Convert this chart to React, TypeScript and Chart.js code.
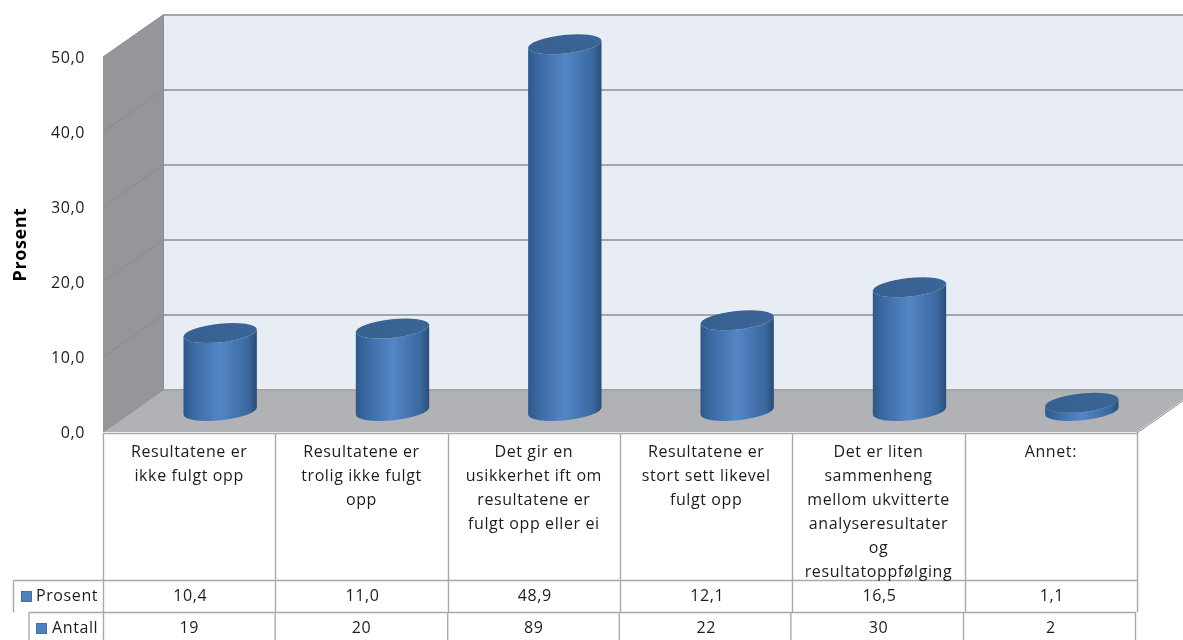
import React, { useEffect, useRef } from "react";
import { Chart, registerables } from "chart.js";

Chart.register(...registerables);

// Survey answers: one multi-line category per response option
const categories: string[][] = [
  ["Resultatene er", "ikke fulgt opp"],
  ["Resultatene er", "trolig ikke fulgt", "opp"],
  ["Det gir en", "usikkerhet ift om", "resultatene er", "fulgt opp eller ei"],
  ["Resultatene er", "stort sett likevel", "fulgt opp"],
  ["Det er liten", "sammenheng", "mellom ukvitterte", "analyseresultater", "og", "resultatoppfølging"],
  ["Annet:"],
];
const prosent: number[] = [10.4, 11.0, 48.9, 12.1, 16.5, 1.1];
const antall: number[] = [19, 20, 89, 22, 30, 2];
const yTicks: number[] = [0, 10, 20, 30, 40, 50];

const FONT = '"Open Sans", sans-serif';
const TEXT = "#1c1c1c";
const DEPTH_X = 60;
const DEPTH_Y = 42;
const TILT = (-6 * Math.PI) / 180;
const ELLIPSE_RY = 9.2;

const comma = (v: number) => v.toFixed(1).replace(".", ",");

// Floor and walls of the 3D box, then the data table under the axis
const boxAndTable = {
  id: "boxAndTable",
  beforeDraw(chart: Chart) {
    const { ctx, chartArea: a, scales } = chart;
    const y = scales.y;
    const x = scales.x;
    const y0 = y.getPixelForValue(0);
    const yTop = y.getPixelForValue(50);
    const bx = a.left + DEPTH_X;
    const right = a.right + DEPTH_X;

    // slightly open tracking for all text on the canvas
    (ctx as any).letterSpacing = "0.6px";

    ctx.save();
    ctx.fillStyle = "#ffffff";
    ctx.fillRect(0, 0, chart.width, chart.height);

    // back wall
    ctx.fillStyle = "#e8ecf5";
    ctx.fillRect(bx, yTop - DEPTH_Y, right - bx, y0 - yTop);

    // left wall
    ctx.fillStyle = "#95969a";
    ctx.beginPath();
    ctx.moveTo(a.left, yTop);
    ctx.lineTo(bx, yTop - DEPTH_Y);
    ctx.lineTo(bx, y0 - DEPTH_Y);
    ctx.lineTo(a.left, y0);
    ctx.closePath();
    ctx.fill();

    // floor
    ctx.fillStyle = "#b0b2b6";
    ctx.beginPath();
    ctx.moveTo(a.left, y0);
    ctx.lineTo(bx, y0 - DEPTH_Y);
    ctx.lineTo(right, y0 - DEPTH_Y);
    ctx.lineTo(a.right, y0);
    ctx.closePath();
    ctx.fill();

    // gridlines wrap from the left wall onto the back wall
    for (const t of yTicks) {
      const py = y.getPixelForValue(t);
      ctx.strokeStyle = "#8a8b8e";
      ctx.lineWidth = 1;
      ctx.beginPath();
      ctx.moveTo(a.left, py);
      ctx.lineTo(bx, py - DEPTH_Y);
      ctx.stroke();
      ctx.strokeStyle = "#a5a6a8";
      ctx.lineWidth = 2;
      ctx.beginPath();
      ctx.moveTo(bx, py - DEPTH_Y);
      ctx.lineTo(right, py - DEPTH_Y);
      ctx.stroke();
    }
    ctx.strokeStyle = "#8a8b8e";
    ctx.lineWidth = 1;
    ctx.beginPath();
    ctx.moveTo(bx + 0.5, yTop - DEPTH_Y);
    ctx.lineTo(bx + 0.5, y0 - DEPTH_Y);
    ctx.moveTo(a.right, y0 + 1);
    ctx.lineTo(right, y0 + 1 - DEPTH_Y);
    ctx.stroke();

    // data table rules
    const rowTop = 580.5;
    const rowMid = 612.5;
    const rowEnd = 640;
    const firstLeft = 13.5;
    const secondLeft = 29;
    const colX = (i: number) => Math.round(a.left + (i * (a.right - a.left)) / categories.length) + 0.5;
    ctx.strokeStyle = "#a9a9a9";
    ctx.lineWidth = 1.4;
    ctx.beginPath();
    ctx.moveTo(a.left, y0 + 1.5);
    ctx.lineTo(a.right, y0 + 1.5);
    for (let i = 0; i <= categories.length; i++) {
      ctx.moveTo(colX(i), y0 + 1);
      ctx.lineTo(colX(i), rowMid);
      ctx.moveTo(colX(i) - Math.min(i * 0.4, 2), rowMid);
      ctx.lineTo(colX(i) - Math.min(i * 0.4, 2), rowEnd);
    }
    ctx.moveTo(firstLeft, rowTop);
    ctx.lineTo(a.right, rowTop);
    ctx.moveTo(firstLeft, rowTop);
    ctx.lineTo(firstLeft, rowMid);
    ctx.moveTo(secondLeft, rowMid);
    ctx.lineTo(a.right - 1, rowMid);
    ctx.moveTo(secondLeft, rowMid);
    ctx.lineTo(secondLeft, rowEnd);
    ctx.stroke();

    // legend keys and row labels
    ctx.font = `16px ${FONT}`;
    ctx.textBaseline = "middle";
    const key = (kx: number, ky: number) => {
      ctx.fillStyle = "#4f81bd";
      ctx.strokeStyle = "#44709f";
      ctx.lineWidth = 1;
      ctx.fillRect(kx, ky, 11, 11);
      ctx.strokeRect(kx + 0.5, ky + 0.5, 10, 10);
    };
    key(21, 591);
    key(36, 623);
    ctx.fillStyle = TEXT;
    ctx.textAlign = "left";
    ctx.fillText("Prosent", 36, 596);
    ctx.fillText("Antall", 52, 628);

    // table values
    ctx.textAlign = "center";
    prosent.forEach((v, i) => ctx.fillText(comma(v), x.getPixelForTick(i) + 1, 596));
    antall.forEach((v, i) => ctx.fillText(String(v), x.getPixelForTick(i), 628));
    ctx.restore();
  },
};

// Bars are drawn as tilted cylinders standing in the middle of the box depth
const cylinders = {
  id: "cylinders",
  beforeDatasetDraw(chart: Chart, args: any) {
    const { ctx } = chart;
    ctx.save();
    for (const bar of args.meta.data as any[]) {
      const cx = bar.x + DEPTH_X / 2 + 1;
      const topY = bar.y - DEPTH_Y / 2;
      const baseY = bar.base - DEPTH_Y / 2;
      const rx = bar.width / 2;
      const body = ctx.createLinearGradient(cx - rx, 0, cx + rx, 0);
      body.addColorStop(0, "#2d5788");
      body.addColorStop(0.12, "#3a679f");
      body.addColorStop(0.5, "#5486c7");
      body.addColorStop(0.88, "#3a689f");
      body.addColorStop(1, "#2a4c75");
      ctx.fillStyle = body;
      ctx.beginPath();
      ctx.ellipse(cx, baseY, rx, ELLIPSE_RY, TILT, 0, Math.PI);
      ctx.ellipse(cx, topY, rx, ELLIPSE_RY, TILT, Math.PI, 0, true);
      ctx.closePath();
      ctx.fill();

      const cap = ctx.createLinearGradient(cx - rx, 0, cx + rx, 0);
      cap.addColorStop(0, "#36608f");
      cap.addColorStop(1, "#3a6596");
      ctx.fillStyle = cap;
      ctx.beginPath();
      ctx.ellipse(cx, topY, rx, ELLIPSE_RY, TILT, 0, Math.PI * 2);
      ctx.fill();
    }
    ctx.restore();
    return false;
  },
};

export default function App() {
  const ref = useRef<HTMLCanvasElement>(null);

  useEffect(() => {
    const chart = new Chart(ref.current!, {
      type: "bar",
      data: {
        labels: categories as any,
        datasets: [
          {
            label: "Prosent",
            data: prosent,
            backgroundColor: "#4f81bd",
            categoryPercentage: 1,
            barPercentage: 0.428,
          },
        ],
      },
      plugins: [boxAndTable, cylinders],
      options: {
        responsive: false,
        animation: false,
        layout: { padding: { top: 57, right: 46, left: 0, bottom: 0 } },
        plugins: { legend: { display: false }, tooltip: { enabled: false } },
        scales: {
          x: {
            grid: { display: false, drawTicks: false },
            border: { display: false },
            afterFit: (s: any) => {
              s.height = 208;
            },
            ticks: {
              autoSkip: false,
              maxRotation: 0,
              minRotation: 0,
              padding: 8,
              color: TEXT,
              font: { family: FONT, size: 16, lineHeight: 1.51 },
            },
          },
          y: {
            min: 0,
            max: 50,
            grid: { display: false, drawTicks: false },
            border: { display: false },
            afterFit: (s: any) => {
              s.width = 103;
            },
            afterBuildTicks: (s: any) => {
              s.ticks = yTicks.map((value) => ({ value }));
            },
            ticks: {
              padding: 18,
              labelOffset: 1,
              color: TEXT,
              font: { family: FONT, size: 16 },
              callback: (v: any) => comma(Number(v)),
            },
            title: {
              display: true,
              text: "Prosent",
              color: "#000000",
              padding: { top: 10, bottom: 0 },
              font: { family: FONT, size: 18, weight: "bold" },
            },
          },
        },
      },
    } as any);
    return () => chart.destroy();
  }, []);

  return (
    <div style={{ position: "absolute", left: 0, top: 0, width: 1183, height: 640 }}>
      <canvas ref={ref} width={1183} height={640} style={{ display: "block" }} />
    </div>
  );
}
